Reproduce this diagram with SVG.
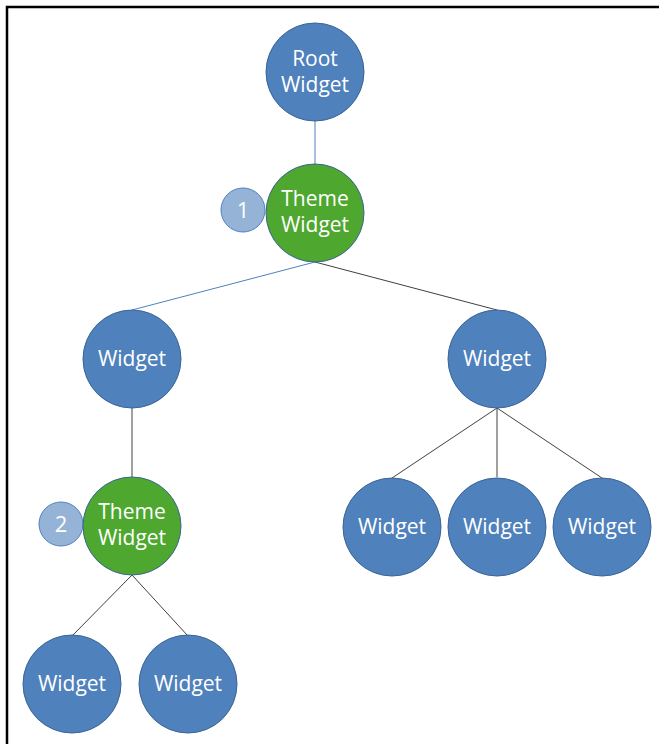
<svg xmlns="http://www.w3.org/2000/svg" width="659" height="744" viewBox="0 0 659 744">
<style>
.n{fill:#4F81BD;stroke:#3A6496;stroke-width:1}
.t{fill:#4EA72E;stroke:#3A6496;stroke-width:1}
.b{fill:#95B3D7;stroke:#4F81BD;stroke-width:1}
text{font-family:"Open Sans","Noto Sans",sans-serif;fill:#fff;text-anchor:middle;font-size:21px}
.num{font-size:22px}
.e{stroke:#404040;stroke-width:1;fill:none}
.eb{stroke:#4F81BD;stroke-width:1;fill:none}
</style>
<rect width="659" height="744" fill="#fff"/>
<path d="M7,744 V7 H659" fill="none" stroke="#000" stroke-width="2.5"/>
<g id="connectors">
<line class="eb" x1="315" y1="121" x2="315" y2="164"/>
<line class="eb" x1="315" y1="262" x2="132" y2="310"/>
<line class="e" x1="315" y1="262" x2="497" y2="310"/>
<line class="e" x1="132" y1="408" x2="132" y2="477"/>
<line class="e" x1="497" y1="408" x2="392" y2="478"/>
<line class="e" x1="497" y1="408" x2="497" y2="477"/>
<line class="e" x1="497" y1="408" x2="602" y2="478"/>
<line class="e" x1="132" y1="575" x2="72" y2="636"/>
<line class="e" x1="132" y1="575" x2="188" y2="636"/>
</g>
<g id="root"><circle class="n" cx="315" cy="72" r="49"/><text x="315" y="66">Root</text><text x="315" y="92">Widget</text></g>
<g id="badge1"><circle class="b" cx="243" cy="210" r="22"/><text class="num" x="243" y="218">1</text></g>
<g id="theme1"><circle class="t" cx="315" cy="213" r="49"/><text x="315" y="206">Theme</text><text x="315" y="232">Widget</text></g>
<g id="widgetL"><circle class="n" cx="132" cy="359" r="49"/><text x="132" y="366">Widget</text></g>
<g id="widgetR"><circle class="n" cx="497" cy="359" r="49"/><text x="497" y="366">Widget</text></g>
<g id="badge2"><circle class="b" cx="61" cy="524" r="22"/><text class="num" x="61" y="532">2</text></g>
<g id="theme2"><circle class="t" cx="132" cy="526" r="49"/><text x="132" y="519">Theme</text><text x="132" y="545">Widget</text></g>
<g id="widgetR1"><circle class="n" cx="392" cy="527" r="49"/><text x="392" y="534">Widget</text></g>
<g id="widgetR2"><circle class="n" cx="497" cy="527" r="49"/><text x="497" y="534">Widget</text></g>
<g id="widgetR3"><circle class="n" cx="602" cy="527" r="49"/><text x="602" y="534">Widget</text></g>
<g id="widgetB1"><circle class="n" cx="72" cy="684" r="49"/><text x="72" y="691">Widget</text></g>
<g id="widgetB2"><circle class="n" cx="188" cy="684" r="49"/><text x="188" y="691">Widget</text></g>
</svg>
